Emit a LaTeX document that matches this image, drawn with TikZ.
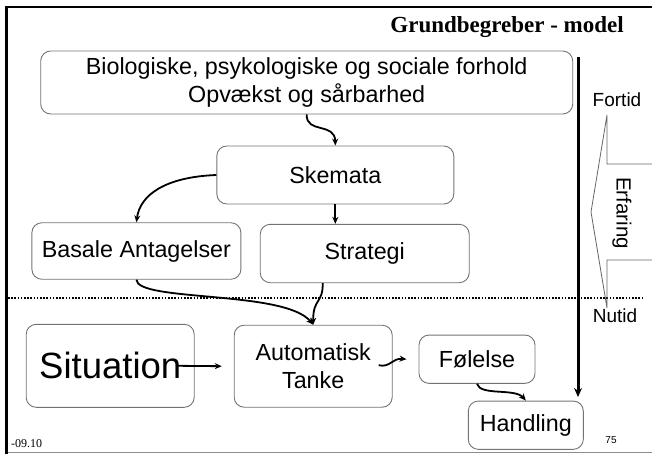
\documentclass[tikz,border=0pt]{standalone}
\usepackage{fontspec}
\setmainfont{Liberation Sans}
\newfontfamily\titleserif{Liberation Serif}
\usetikzlibrary{arrows.meta,calc}
\begin{document}
\begin{tikzpicture}[x=1pt,y=-1pt,
  box/.style={draw=black!55,line width=0.9pt,rounded corners=10pt,inner sep=0pt,align=center,
    font=\fontsize{23.3}{28}\selectfont},
  conn/.style={line width=1.8pt,-{Stealth[length=7pt,width=6pt]}},
  lbl/.style={inner sep=0pt,font=\fontsize{19}{22}\selectfont}]
\useasboundingbox (0,0) rectangle (652,454);
% frame
\draw[black!45,line width=1pt] (6,452.5) -- (652,452.5);
\draw[line width=2.6pt] (652,7) -- (6.3,7) -- (6.3,454);
% title
\node[anchor=east,inner sep=0pt,font=\titleserif\bfseries\fontsize{23}{27}\selectfont] (title) at (624,27) {Grundbegreber - model};
% boxes
\node[box,minimum width=532pt,minimum height=63pt] (top) at (306.7,82.5)
  {Biologiske, psykologiske og sociale forhold\\Opvækst og sårbarhed};
\node[box,minimum width=237pt,minimum height=58pt] (skem) at (335.3,175) {Skemata};
\node[box,minimum width=209pt,minimum height=56.5pt] (bas) at (136.4,251) {Basale Antagelser};
\node[box,minimum width=209pt,minimum height=58.4pt] (strat) at (364.7,253.5) {Strategi};
\node[box,minimum width=168pt,minimum height=83pt,font=\fontsize{36.5}{40}\selectfont] (sit) at (110.2,365.8) {Situation};
\node[box,minimum width=158pt,minimum height=82pt] (auto) at (313.2,366.2) {Automatisk\\Tanke};
\node[box,minimum width=116pt,minimum height=48.3pt] (fol) at (477,359.2) {Følelse};
\node[box,minimum width=115pt,minimum height=48.3pt] (hand) at (525.8,425.2) {Handling};
% dotted divider
\coordinate (dl) at (8,297.5);
\coordinate (dr) at (642,297.5);
\draw[line width=2pt,dash pattern=on 1.6pt off 1.6pt] (dl) -- (dr);
% time axis
\coordinate (vtop) at (578,57);
\coordinate (vbot) at (578,397);
\draw[line width=3pt,-{Stealth[length=9pt,width=8pt]}] (vtop) -- (vbot);
\node[lbl] (fortid) at (617,100) {Fortid};
\node[lbl] (nutid) at (615,316) {Nutid};
% callout
\draw[black!60,line width=0.8pt] (653,164) -- (607,164) -- (607,115) -- (591,212) -- (607,308) -- (607,260) -- (653,260);
\node[inner sep=0pt,rotate=-90,font=\fontsize{20.5}{24}\selectfont] (erf) at (622,213) {Erfaring};
% connectors
\draw[conn] (top.south) .. controls (306,134) and (335,122) .. (skem.north);
\draw[conn] (skem.west) .. controls (165,177) and (140,195) .. (bas.north);
\draw[conn] (skem.south) -- (skem.south |- strat.north);
\draw[conn] (bas.south) .. controls (137,302) and (285,290) .. (auto.north);
\draw[conn] ([xshift=-42pt]strat.south) .. controls (323,304) and (313,298) .. (auto.north);
\draw[conn] ([xshift=-17pt]sit.east) -- ([xshift=-12pt]auto.west);
\draw[conn] ([xshift=-14pt,yshift=1pt]auto.east) .. controls (390,368) and (392,358) .. ([xshift=-12pt]fol.west);
\draw[conn] (fol.south) .. controls (480,396) and (515,388) .. (hand.north);
% footer
\node[anchor=west,inner sep=0pt,font=\titleserif\fontsize{12}{14}\selectfont] (date) at (11,444) {-09.10};
\node[inner sep=0pt,font=\fontsize{10}{12}\selectfont] (pg) at (611,440) {75};
\end{tikzpicture}
\end{document}
